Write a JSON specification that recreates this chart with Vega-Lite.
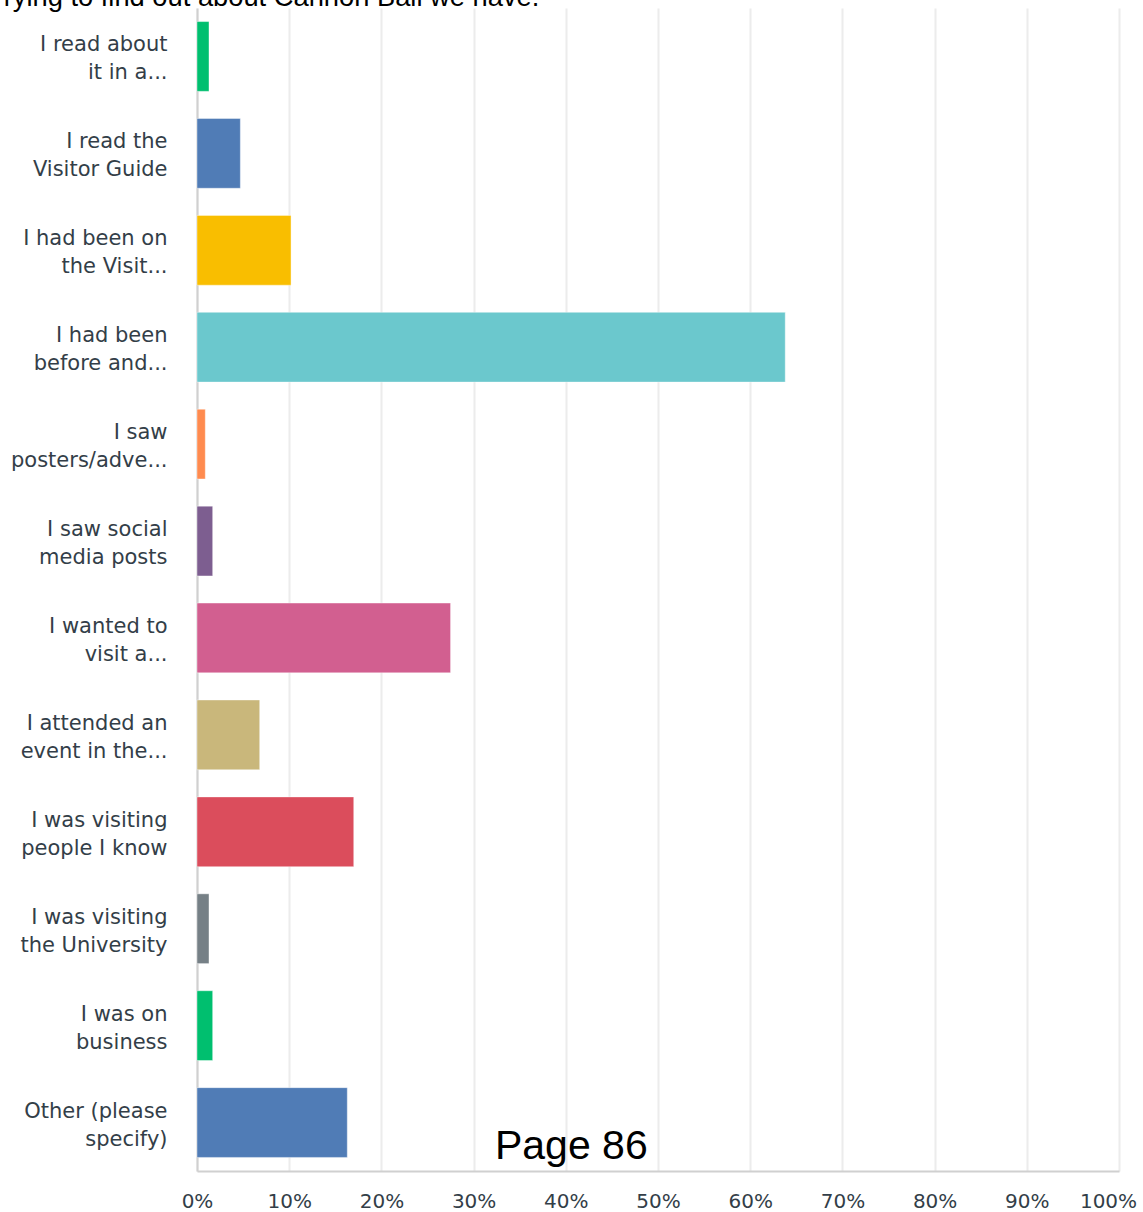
{
  "$schema": "https://vega.github.io/schema/vega-lite/v6.json",
  "width": 922,
  "height": 1163,
  "autosize": {"type": "none"},
  "padding": {"left": 197, "top": 8, "right": 24, "bottom": 41},
  "background": "white",
  "title": {
    "text": "Trying to find out about Cannon Ball we have.",
    "anchor": "start",
    "frame": "group",
    "orient": "top",
    "baseline": "alphabetic",
    "offset": -25,
    "dx": -209,
    "font": "Liberation Sans",
    "fontSize": 27.3,
    "fontWeight": "normal",
    "color": "#000000"
  },
  "data": {
    "values": [
      {"answer": "I read about|it in a...", "pct": 1.3, "color": "#00BF6F"},
      {"answer": "I read the|Visitor Guide", "pct": 4.7, "color": "#507CB6"},
      {"answer": "I had been on|the Visit...", "pct": 10.2, "color": "#F9BE00"},
      {"answer": "I had been|before and...", "pct": 63.8, "color": "#6BC8CD"},
      {"answer": "I saw|posters/adve...", "pct": 0.9, "color": "#FF8B4F"},
      {"answer": "I saw social|media posts", "pct": 1.7, "color": "#7D5E90"},
      {"answer": "I wanted to|visit a...", "pct": 27.5, "color": "#D25F90"},
      {"answer": "I attended an|event in the...", "pct": 6.8, "color": "#C9B77B"},
      {"answer": "I was visiting|people I know", "pct": 17.0, "color": "#DB4D5C"},
      {"answer": "I was visiting|the University", "pct": 1.3, "color": "#768086"},
      {"answer": "I was on|business", "pct": 1.7, "color": "#00BF6F"},
      {"answer": "Other (please|specify)", "pct": 16.3, "color": "#507CB6"}
    ]
  },
  "layer": [
    {
      "mark": {"type": "bar", "strokeWidth": 1, "strokeOpacity": 0.4, "stroke": "white"},
      "encoding": {
        "y": {
          "field": "answer",
          "type": "nominal",
          "sort": null,
          "scale": {"paddingInner": 0.28, "paddingOuter": 0.14},
          "axis": {
            "title": null,
            "labelExpr": "split(datum.value, '|')",
            "labelFont": "DejaVu Sans",
            "labelFontSize": 21,
            "labelLineHeight": 28,
            "labelColor": "#333e48",
            "labelPadding": 30,
            "labelOffset": -11,
            "ticks": false,
            "domainColor": "#d0d0d0",
            "domainWidth": 2,
            "labelLimit": 300
          }
        },
        "x": {
          "field": "pct",
          "type": "quantitative",
          "scale": {"domain": [0, 100], "nice": false},
          "axis": {
            "title": null,
            "values": [0, 10, 20, 30, 40, 50, 60, 70, 80, 90, 100],
            "labelExpr": "datum.value + '%'",
            "labelFont": "DejaVu Sans",
            "labelFontSize": 20,
            "labelColor": "#333e48",
            "labelPadding": 20,
            "labelOffset": {"condition": {"test": "datum.value == 100", "value": -11}, "value": 0},
            "ticks": false,
            "grid": true,
            "gridColor": "#ececec",
            "gridWidth": 2,
            "domainColor": "#d0d0d0",
            "domainWidth": 2,
            "labelFlush": false
          }
        },
        "color": {"field": "color", "type": "nominal", "scale": null}
      }
    },
    {
      "data": {"values": [{"answer": "Other (please|specify)", "pct": 40.6, "txt": "Page 86"}]},
      "mark": {"type": "text", "font": "Liberation Sans", "fontSize": 41, "color": "#000000", "dy": 24, "align": "center", "baseline": "middle"},
      "encoding": {
        "y": {"field": "answer", "type": "nominal", "sort": null},
        "x": {"field": "pct", "type": "quantitative"},
        "text": {"field": "txt"}
      }
    }
  ],
  "config": {"view": {"stroke": null}}
}
